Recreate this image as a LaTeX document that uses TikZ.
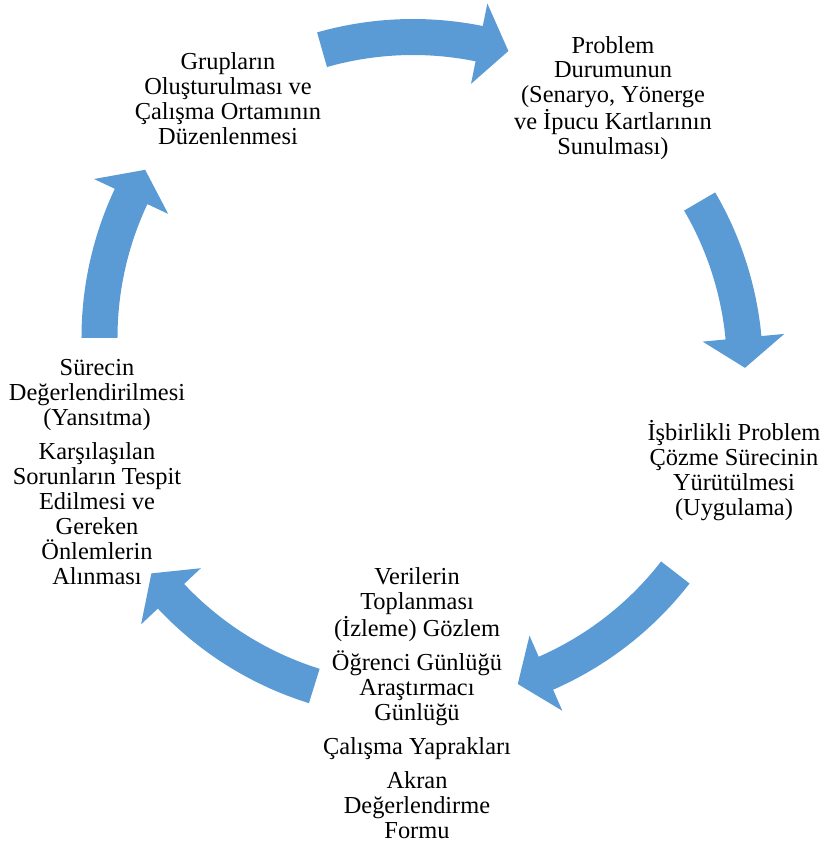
\documentclass[tikz,border=0pt]{standalone}
\usepackage{fontspec}
\setmainfont{Liberation Serif}
\usepackage{tikz}
\usetikzlibrary{positioning}
\definecolor{cycleblue}{RGB}{91, 155, 213}
\tikzset{
  stage/.style={
    align=center,
    inner sep=0pt,
    font=\fontsize{18.3}{18.75}\selectfont
  },
  arcarrow/.style={
    fill=cycleblue,
    draw=none
  }
}
% block arc arrow round #1: #2 tail angle, #3 tip angle
\newcommand{\cyclearrow}[3]{%
  \fill[arcarrow] ([shift={(#2:350)}]#1) arc[start angle=#2, end angle=#3+5.2, radius=350]
    -- ([shift={(#3+5.2:373)}]#1) -- ([shift={(#3:332)}]#1) -- ([shift={(#3+5.2:291)}]#1)
    -- ([shift={(#3+5.2:314)}]#1) arc[start angle=#3+5.2, end angle=#2, radius=314] -- cycle;
}

\begin{document}
\begin{tikzpicture}[x=0.75pt, y=0.75pt]
  \useasboundingbox (-413,-474) rectangle (408,369);
  \coordinate (c) at (0,0);
  \coordinate (cl) at (18.5,31.2);

  \cyclearrow{c}{105.9}{73.3}
  \cyclearrow{c}{30.3}{0.2}
  \cyclearrow{c}{-37.8}{-71.6}
  \cyclearrow{c}{-107.3}{-142}
  \cyclearrow{cl}{180}{149.6}

  \node[stage] (groups) at (-185, 270) {Grupların\\Oluşturulması ve\\Çalışma Ortamının\\Düzenlenmesi};
  \node[stage] (problem) at (200, 271) {Problem\\Durumunun\\(Senaryo, Yönerge\\ve İpucu Kartlarının\\Sunulması)};
  \node[stage] (solving) at (321, -102) {İşbirlikli Problem\\Çözme Sürecinin\\Yürütülmesi\\(Uygulama)};
  \node[stage] (data) at (4, -334) {Verilerin\\Toplanması\\(İzleme) Gözlem\\[6.75pt]Öğrenci Günlüğü\\Araştırmacı\\Günlüğü\\[6.75pt]Çalışma Yaprakları\\[6.75pt]Akran\\Değerlendirme\\Formu};
  \node[stage] (reflect) at (-316, -103) {Sürecin\\Değerlendirilmesi\\(Yansıtma)\\[6.75pt]Karşılaşılan\\Sorunların Tespit\\Edilmesi ve\\Gereken\\Önlemlerin\\Alınması};
\end{tikzpicture}
\end{document}
